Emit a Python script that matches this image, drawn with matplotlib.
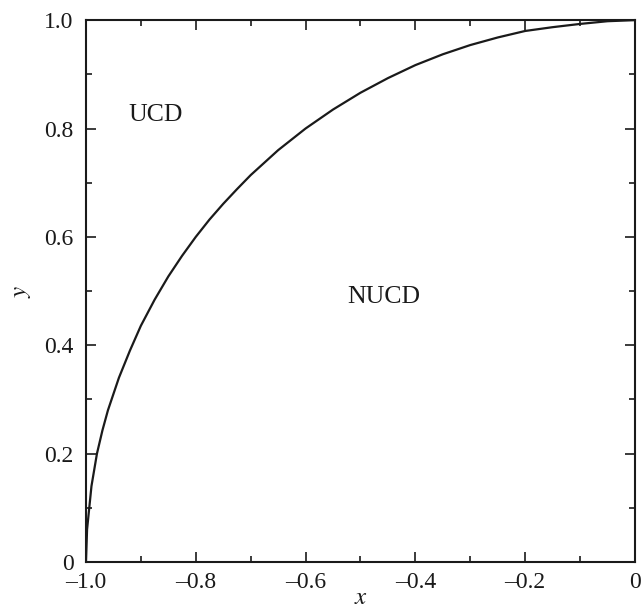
import matplotlib
matplotlib.use('Agg')
import matplotlib.pyplot as plt
from matplotlib import font_manager
from matplotlib.ticker import MultipleLocator, FuncFormatter

# boundary between UCD and NUCD regions
x_vals = [-1.0, -0.998, -0.99, -0.98, -0.97, -0.96, -0.94, -0.92, -0.9, -0.875,
          -0.85, -0.825, -0.8, -0.775, -0.75, -0.725, -0.7, -0.65, -0.6, -0.55,
          -0.5, -0.45, -0.4, -0.35, -0.3, -0.25, -0.2, -0.15, -0.1, -0.05, 0.0]
y_vals = [0.0, 0.06, 0.14, 0.20, 0.243, 0.28, 0.34, 0.39, 0.436, 0.484,
          0.527, 0.565, 0.60, 0.632, 0.661, 0.688, 0.714, 0.760, 0.80, 0.835,
          0.866, 0.893, 0.917, 0.937, 0.954, 0.968, 0.98, 0.987, 0.993, 0.998, 1.0]

region_labels = ['UCD', 'NUCD']
region_pos = [(-0.873, 0.825), (-0.457, 0.489)]

names = set(f.name for f in font_manager.fontManager.ttflist)
serif = [n for n in ['Liberation Serif', 'Times New Roman', 'Nimbus Roman', 'DejaVu Serif'] if n in names]
plt.rcParams['font.family'] = serif + ['DejaVu Sans']
plt.rcParams['mathtext.fontset'] = 'stix'

fig = plt.figure(figsize=(6.44, 6.10), dpi=100)
ax = fig.add_axes([0.1335, 0.0787, 0.8525, 0.8883])

ax.plot(x_vals, y_vals, color='#1a1a1a', lw=1.6)

for lab, (tx, ty) in zip(region_labels, region_pos):
    ax.text(tx, ty, lab, fontsize=18.5, ha='center', va='center', color='#1a1a1a')

ax.set_xlim(-1.0, 0.0)
ax.set_ylim(0.0, 1.0)
ax.xaxis.set_major_locator(MultipleLocator(0.2))
ax.xaxis.set_minor_locator(MultipleLocator(0.1))
ax.yaxis.set_major_locator(MultipleLocator(0.2))
ax.yaxis.set_minor_locator(MultipleLocator(0.1))


def fmt(v, pos):
    if abs(v) < 1e-9:
        return '0'
    s = f'{v:.1f}'
    return s.replace('-', '\u2013')


ax.xaxis.set_major_formatter(FuncFormatter(fmt))
ax.yaxis.set_major_formatter(FuncFormatter(fmt))

ax.tick_params(which='both', direction='in', top=True, right=True,
               color='#1a1a1a', width=1.2, labelsize=17, labelcolor='#1a1a1a')
ax.tick_params(axis='x', which='major', length=7, pad=7)
ax.tick_params(axis='y', which='major', length=7, pad=9)
ax.tick_params(which='minor', length=4.5)
for sp in ax.spines.values():
    sp.set_linewidth(1.5)
    sp.set_color('#1a1a1a')

ax.set_xlabel('$x$', fontsize=18, labelpad=-4, color='#1a1a1a')
ax.set_ylabel('$y$', fontsize=18, labelpad=8, color='#1a1a1a')

fig.savefig('out.png', dpi=100)
